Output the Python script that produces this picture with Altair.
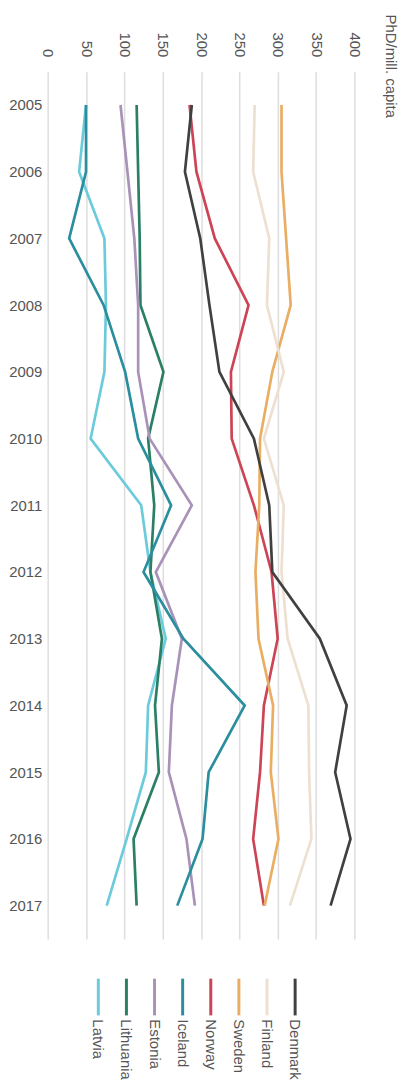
import altair as alt
import pandas as pd

years = list(range(2005, 2018))
countries = ["Latvia", "Lithuania", "Estonia", "Iceland", "Norway", "Sweden", "Finland", "Denmark"]
colors = ["#6ccbdb", "#2a7f65", "#a892b8", "#2a8e9e", "#cc4455", "#e9ae63", "#ede0d0", "#404040"]

latvia    = [50, 41, 74, 76, 74, 56, 122, 134, 154, 131, 128, 103, 77]
lithuania = [116, 118, 120, 121, 151, 131, 139, 134, 149, 140, 145, 112, 116]
estonia   = [95, 104, 113, 118, 118, 133, 188, 141, 175, 162, 158, 181, 192]
iceland   = [50, 50, 28, 73, 101, 118, 161, 125, 177, 257, 210, 202, 169]
norway    = [185, 194, 218, 262, 239, 240, 269, 292, 300, 282, 277, 268, 282]
sweden    = [305, 305, 311, 317, 293, 277, 276, 271, 275, 294, 291, 301, 283]
finland   = [270, 268, 289, 286, 308, 282, 308, 305, 313, 340, 341, 344, 316]
denmark   = [188, 179, 199, 211, 224, 269, 289, 293, 355, 390, 375, 395, 369]

series = [latvia, lithuania, estonia, iceland, norway, sweden, finland, denmark]
rows = []
for c, vals in zip(countries, series):
    for y, v in zip(years, vals):
        rows.append({"country": c, "year": y, "value": v})
df = pd.DataFrame(rows)

FONT = "Liberation Sans"
TXT = "#555555"

main = alt.Chart(df).mark_line(strokeWidth=2.7).encode(
    x=alt.X(
        "value:Q",
        scale=alt.Scale(domain=[0, 400], nice=False),
        axis=alt.Axis(
            orient="top",
            values=[0, 50, 100, 150, 200, 250, 300, 350, 400],
            labelAngle=90,
            labelAlign="right",
            labelBaseline="middle",
            labelPadding=15,
            labelFontSize=15,
            labelColor=TXT,
            labelFont=FONT,
            ticks=False,
            domain=False,
            grid=True,
            gridColor="#dddddd",
            gridWidth=1.5,
            title="PhD/mill. capita",
            titleAngle=90,
            titleX=345,
            titleY=-58,
            titleAlign="left",
            titleBaseline="middle",
            titleFontSize=15,
            titleFontWeight="normal",
            titleColor=TXT,
            titleFont=FONT,
        ),
    ),
    y=alt.Y(
        "year:O",
        scale=alt.Scale(type="point", padding=0.5),
        axis=alt.Axis(
            title=None,
            labelFontSize=15,
            labelColor=TXT,
            labelFont=FONT,
            labelPadding=6,
            ticks=False,
            domain=False,
            grid=False,
        ),
    ),
    color=alt.Color("country:N", scale=alt.Scale(domain=countries, range=colors), legend=None),
    order=alt.Order("year:O"),
).properties(width=309, height=874)

leg_df = pd.DataFrame({"country": countries})
leg_x = alt.X(
    "country:N",
    sort=countries,
    scale=alt.Scale(type="point", domain=countries, padding=1, align=0.9),
    axis=None,
)
leg_rule = alt.Chart(leg_df).mark_rule(strokeWidth=3).encode(
    x=leg_x,
    y=alt.value(0),
    y2=alt.value(37),
    color=alt.Color("country:N", scale=alt.Scale(domain=countries, range=colors), legend=None),
)
leg_text = alt.Chart(leg_df).mark_text(
    angle=90, align="left", baseline="middle", fontSize=15, color=TXT, font=FONT
).encode(
    x=leg_x,
    y=alt.value(41),
    text="country:N",
)
legend = alt.layer(leg_rule, leg_text).properties(width=255, height=60)

chart = alt.vconcat(main, legend, spacing=40, bounds="flush").properties(
    padding={"left": 0, "top": 2, "right": 2, "bottom": 0}
).configure(font=FONT).configure_view(stroke=None)

chart.save("out.html", embed_options={"renderer": "svg", "actions": False})
